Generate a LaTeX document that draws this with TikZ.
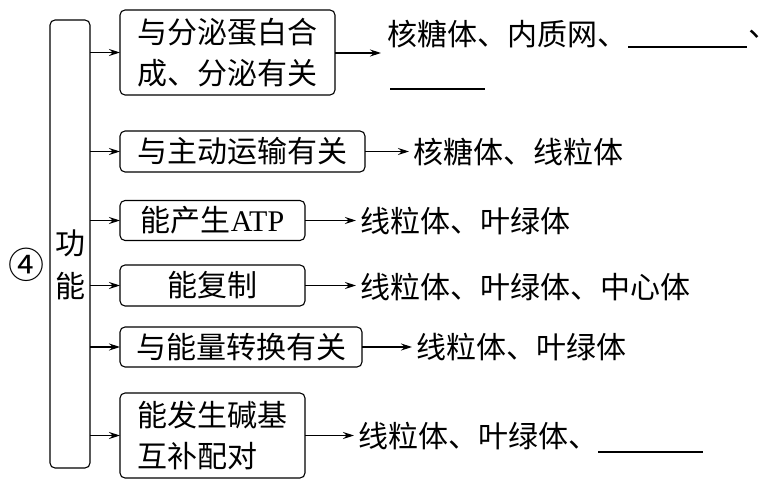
\documentclass[tikz,border=0pt]{standalone}
\usepackage{fontspec}
\setmainfont{Liberation Serif}
\newfontfamily\cjk{Noto Sans CJK SC}
\newfontfamily\cjktc{Noto Sans CJK TC}
\usetikzlibrary{arrows.meta}
\tikzset{
  every node/.style={inner sep=0pt, outer sep=0pt},
  txt/.style={font=\cjk\fontsize{30}{41}\selectfont, anchor=west},
  fbox/.style={draw, line width=1.1pt, rounded corners=5pt, font=\cjk\fontsize{30}{41}\selectfont, align=left},
  arr/.style={line width=1.1pt, -{Stealth[length=11pt,width=7pt]}},
  rarr/.style={arr, shorten >=4pt},
  blank/.style={line width=1.3pt}
}
\begin{document}
\begin{tikzpicture}[x=1pt,y=-1pt]
\useasboundingbox (0,0) rectangle (769,492);
% left column
\node[draw, line width=1.1pt, rounded corners=5pt, minimum width=40pt, minimum height=448pt] (func) at (70,244) {};
\node[font=\cjk\fontsize{30}{43}\selectfont, align=center] (gn) at (70,265) {功\\能};
\node[font=\cjk\fontsize{36}{36}\selectfont] (num) at (27,265) {④};
% function boxes
\node[fbox, minimum width=215pt, minimum height=85pt] (b1) at (227.5,52.5) {与分泌蛋白合\\成、分泌有关};
\node[fbox, minimum width=245pt, minimum height=41pt] (b2) at (242.5,151.5) {与主动运输有关};
\node[fbox, minimum width=185pt, minimum height=40pt] (b3) at (212.5,220.5) {能产生{\rmfamily ATP}};
\node[fbox, minimum width=185pt, minimum height=41pt] (b4) at (212.5,285.5) {能复制};
\node[fbox, minimum width=242pt, minimum height=40pt] (b5) at (241,347) {与能量转换有关};
\node[fbox, minimum width=185pt, minimum height=85pt] (b6) at (212.5,435.5) {能发生碱基\\互补配对};
% arrows from column
\foreach \b in {b1,b2,b3,b4,b5,b6}{
  \draw[arr] (func.east |- \b.west) -- (\b.west);
}
% right texts
\node[txt] (t1) at (387,34) {核糖体、内质网、};
\coordinate (blank1a) at (628,47);
\coordinate (blank1b) at (747,47);
\draw[blank] (blank1a) -- (blank1b);
\node[txt, font=\cjktc\fontsize{30}{41}\selectfont] (t1c) at (739,38) {、};
\coordinate (blank2a) at (390,89);
\coordinate (blank2b) at (485,89);
\draw[blank] (blank2a) -- (blank2b);
\coordinate (e1) at (381,53);
\draw[arr] (b1.east |- e1) -- (e1);
\node[txt] (t2) at (413,152) {核糖体、线粒体};
\node[txt] (t3) at (360,221) {线粒体、叶绿体};
\node[txt] (t4) at (360,287) {线粒体、叶绿体、中心体};
\node[txt] (t5) at (416,347) {线粒体、叶绿体};
\node[txt] (t6) at (358,436) {线粒体、叶绿体、};
\coordinate (blank3a) at (598,452);
\coordinate (blank3b) at (703,452);
\draw[blank] (blank3a) -- (blank3b);
\draw[rarr] (b2.east) -- (b2.east -| t2.west);
\draw[rarr] (b3.east) -- (b3.east -| t3.west);
\draw[rarr] (b4.east) -- (b4.east -| t4.west);
\draw[rarr] (b5.east) -- (b5.east -| t5.west);
\draw[rarr] (b6.east) -- (b6.east -| t6.west);
\end{tikzpicture}
\end{document}
